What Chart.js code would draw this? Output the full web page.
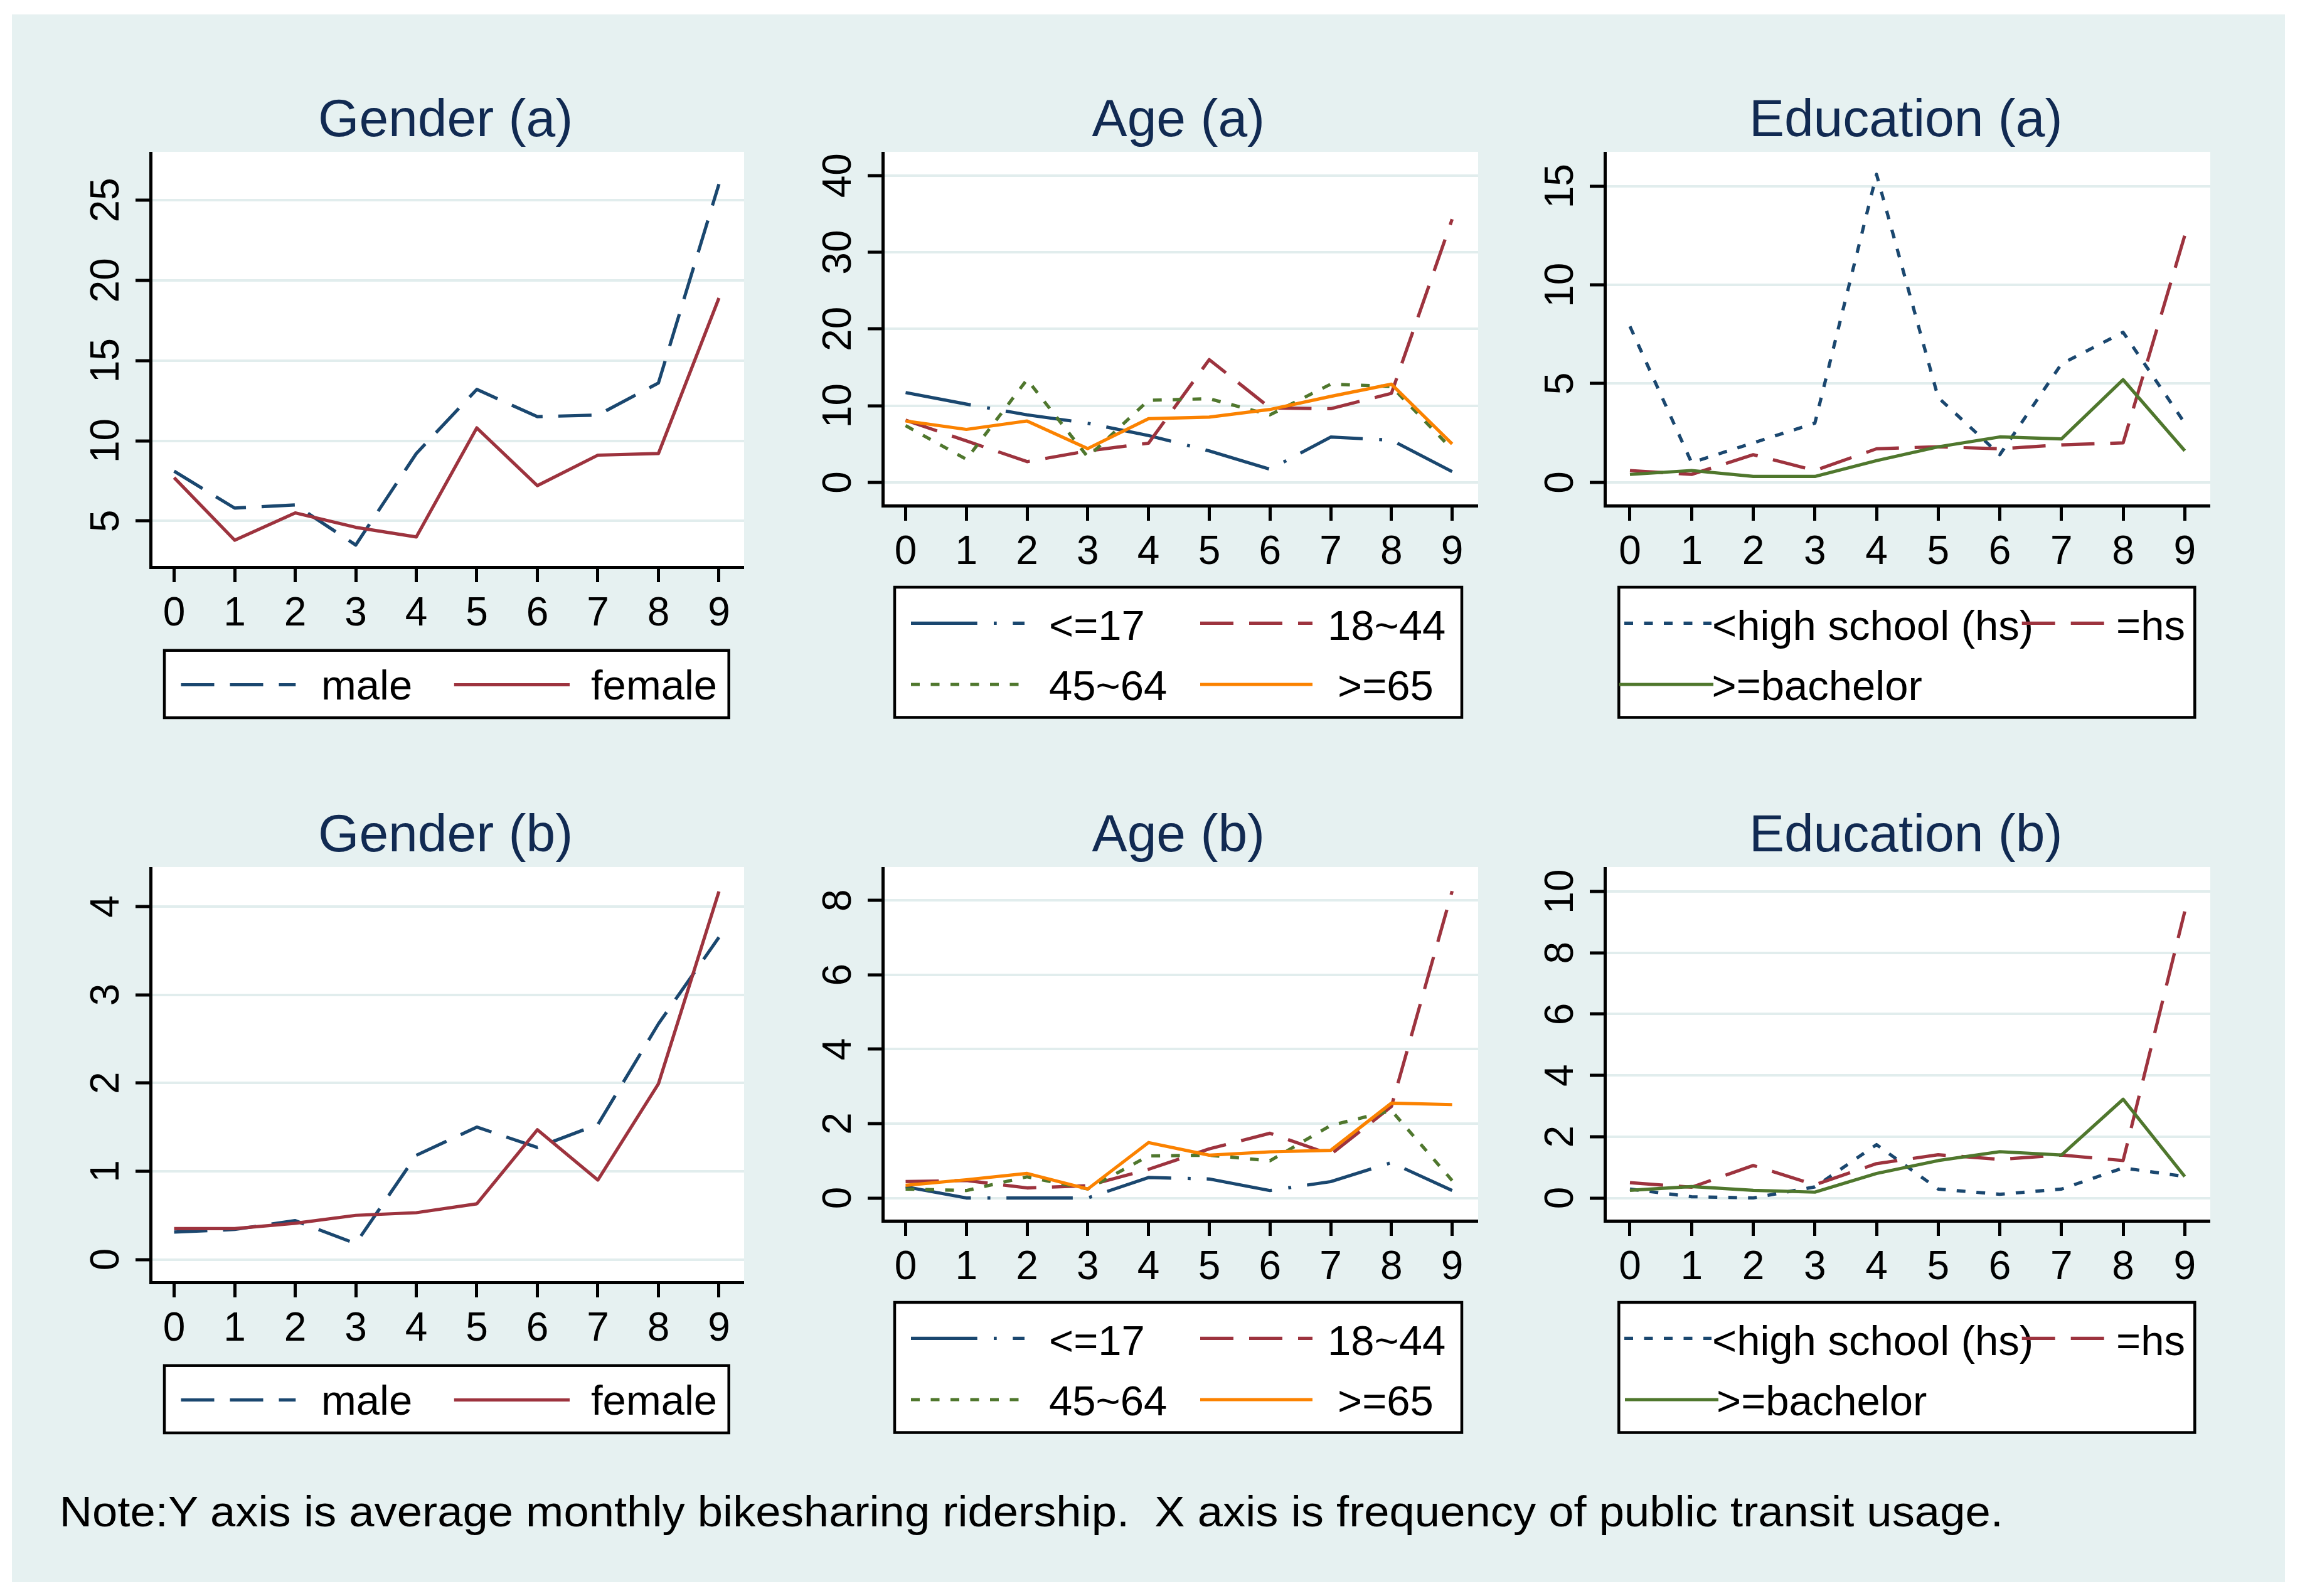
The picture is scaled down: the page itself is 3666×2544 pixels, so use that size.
<!DOCTYPE html>
<html><head><meta charset="utf-8">
<script src="https://cdn.jsdelivr.net/npm/chart.js@4.4.0/dist/chart.umd.min.js"></script>
<style>
html,body{margin:0;padding:0;background:#fff;}
#stage{position:relative;width:3666px;height:2544px;overflow:hidden;background:#fff;}
#bg{position:absolute;left:19px;top:23px;width:3623px;height:2499px;background:#e6f1f1;}
canvas{position:absolute;}
svg{position:absolute;left:0;top:0;}
</style></head><body>
<div id="stage"><div id="bg"></div></div>
<script>
// ---------------- DATA ----------------
const xCategories = [0,1,2,3,4,5,6,7,8,9];
const panelTitles = ['Gender (a)','Age (a)','Education (a)','Gender (b)','Age (b)','Education (b)'];
const genderLabels = ['male','female'];
const ageLabels = ['<=17','18~44','45~64','>=65'];
const eduLabels = ['<high school (hs)','=hs','>=bachelor'];
const noteText = 'Note:Y axis is average monthly bikesharing ridership.  X axis is frequency of public transit usage.';

const genderA_male   = [8.1,5.8,6.0,3.5,9.2,13.2,11.5,11.6,13.6,26.0];
const genderA_female = [7.7,3.8,5.5,4.6,4.0,10.8,7.2,9.1,9.2,18.9];
const ageA_le17  = [11.7,10.2,8.8,7.7,6.1,4.1,1.7,5.9,5.5,1.4];
const ageA_18_44 = [8.1,5.4,2.7,4.1,5.1,16.0,9.7,9.6,11.6,34.3];
const ageA_45_64 = [7.4,3.0,13.4,3.3,10.7,10.9,8.8,12.8,12.5,4.3];
const ageA_ge65  = [8.0,6.9,8.0,4.4,8.3,8.5,9.5,11.2,12.8,5.0];
const eduA_lths = [7.9,1.0,2.0,3.0,15.6,4.3,1.4,6.0,7.6,3.0];
const eduA_hs   = [0.6,0.4,1.4,0.6,1.7,1.8,1.7,1.9,2.0,12.5];
const eduA_bach = [0.4,0.6,0.3,0.3,1.1,1.8,2.3,2.2,5.2,1.6];

const genderB_male   = [0.31,0.34,0.44,0.18,1.18,1.50,1.27,1.53,2.67,3.65];
const genderB_female = [0.35,0.35,0.41,0.50,0.53,0.63,1.47,0.90,1.99,4.17];
const ageB_le17  = [0.30,0.00,0.00,0.00,0.55,0.51,0.20,0.44,0.95,0.20];
const ageB_18_44 = [0.44,0.47,0.27,0.33,0.77,1.32,1.74,1.17,2.46,8.25];
const ageB_45_64 = [0.24,0.20,0.57,0.24,1.13,1.15,1.00,1.95,2.35,0.47];
const ageB_ge65  = [0.34,0.49,0.66,0.24,1.49,1.15,1.24,1.28,2.55,2.51];
const eduB_lths = [0.29,0.04,0.00,0.36,1.74,0.29,0.12,0.29,0.98,0.70];
const eduB_hs   = [0.50,0.35,1.06,0.43,1.12,1.41,1.26,1.40,1.22,9.35];
const eduB_bach = [0.25,0.37,0.25,0.19,0.80,1.22,1.51,1.40,3.22,0.70];

const yTicksGenderA = [5,10,15,20,25];
const yTicksAgeA    = [0,10,20,30,40];
const yTicksEduA    = [0,5,10,15];
const yTicksGenderB = [0,1,2,3,4];
const yTicksAgeB    = [0,2,4,6,8];
const yTicksEduB    = [0,2,4,6,8,10];

// ---------------- STYLE ----------------
const FONT = '"Liberation Sans", Arial, Helvetica, sans-serif';
const NAVY = '#1a476f', MAROON = '#9d333e', GREEN = '#4f772d', ORANGE = '#fb8200';
const TITLE_COLOR = '#112a52', GRID = '#e1eded';
const DASH = [53, 25], SHORTDASH = [14, 17.5], DASHDOT = [105.7, 26.3, 4.7, 25.6], SOLID = [];
const LINE_W = 5.2;
const TICK_PX = 64, TITLE_PX = 84, LEGEND_PX = 67, NOTE_PX = 68;
const W = 200, H = 140;

const genderStyles = [{c:NAVY,d:DASH},{c:MAROON,d:SOLID}];
const ageStyles = [{c:NAVY,d:DASHDOT},{c:MAROON,d:DASH},{c:GREEN,d:SHORTDASH},{c:ORANGE,d:SOLID}];
const eduStyles = [{c:NAVY,d:SHORTDASH},{c:MAROON,d:DASH},{c:GREEN,d:SOLID}];

// legend layouts (row-1 coordinates)
const genderLegend = {box:[262,1036.7,899.7,107.3], items:[
  {l:[288.5,471.3], ly:1091.5, tx:512, ty:1115},
  {l:[723.8,908], ly:1091.5, tx:942, ty:1115}]};
const ageLegend = {box:[1426,936,904,207.5], items:[
  {l:[1452,1633], ly:993.3, tx:1672, ty:1020},
  {l:[1913,2092], ly:993.3, tx:2116, ty:1020},
  {l:[1452,1624], ly:1091, tx:1672, ty:1116},
  {l:[1913,2092], ly:1091, tx:2132, ty:1116}]};
const eduLegendA = {box:[2580.3,936,918,207.5], items:[
  {l:[2589,2728], ly:993.3, tx:2729, ty:1020},
  {l:[3222.7,3354.6], ly:993.3, tx:3373, ty:1020},
  {l:[2580.8,2731], ly:1091, tx:2728.5, ty:1116}]};
const eduLegendB = {box:[2580.3,936,918,207.5], items:[
  {l:[2589,2728], ly:993.3, tx:2729, ty:1020},
  {l:[3222.7,3354.6], ly:993.3, tx:3373, ty:1020},
  {l:[2590,2739], ly:1091, tx:2736, ty:1116}]};

const panels = [
  {title:panelTitles[0], r:{L:240.3,R:1186,T:241.7,B:904.2}, x:[-0.389,9.415], y:[2.12,28.01], yt:yTicksGenderA,
   series:[genderA_male,genderA_female], labels:genderLabels, styles:genderStyles, legend:genderLegend, dy:0},
  {title:panelTitles[1], r:{L:1406.8,R:2355.9,T:241.7,B:806.2}, x:[-0.377,9.428], y:[-3.04,43.09], yt:yTicksAgeA,
   series:[ageA_le17,ageA_18_44,ageA_45_64,ageA_ge65], labels:ageLabels, styles:ageStyles, legend:ageLegend, dy:0},
  {title:panelTitles[2], r:{L:2558.4,R:3523,T:241.7,B:806.2}, x:[-0.407,9.414], y:[-1.18,16.74], yt:yTicksEduA,
   series:[eduA_lths,eduA_hs,eduA_bach], labels:eduLabels, styles:eduStyles, legend:eduLegendA, dy:0},
  {title:panelTitles[3], r:{L:240.3,R:1186,T:1381.7,B:2044.2}, x:[-0.389,9.415], y:[-0.259,4.447], yt:yTicksGenderB,
   series:[genderB_male,genderB_female], labels:genderLabels, styles:genderStyles, legend:genderLegend, dy:1140},
  {title:panelTitles[4], r:{L:1406.8,R:2355.9,T:1381.7,B:1946.2}, x:[-0.377,9.428], y:[-0.615,8.898], yt:yTicksAgeB,
   series:[ageB_le17,ageB_18_44,ageB_45_64,ageB_ge65], labels:ageLabels, styles:ageStyles, legend:ageLegend, dy:1140},
  {title:panelTitles[5], r:{L:2558.4,R:3523,T:1381.7,B:1946.2}, x:[-0.407,9.414], y:[-0.747,10.80], yt:yTicksEduB,
   series:[eduB_lths,eduB_hs,eduB_bach], labels:eduLabels, styles:eduStyles, legend:eduLegendB, dy:1140}
];

// ---------------- PLUGINS ----------------
const plotBgPlugin = {
  id:'plotBg',
  beforeDraw(chart){
    const {ctx, chartArea:a} = chart;
    ctx.save(); ctx.fillStyle = '#fff';
    ctx.fillRect(a.left, a.top, a.right-a.left, a.bottom-a.top); ctx.restore();
  }
};
const yLabelPlugin = {
  id:'yLabels',
  afterDraw(chart){
    const s = chart.scales.y, ctx = chart.ctx;
    ctx.save();
    ctx.fillStyle = '#000';
    ctx.font = TICK_PX + 'px ' + FONT;
    ctx.textAlign = 'center'; ctx.textBaseline = 'alphabetic';
    s.ticks.forEach(t => {
      const y = s.getPixelForValue(t.value);
      ctx.save();
      ctx.translate(chart.chartArea.left - 51, y);
      ctx.rotate(-Math.PI/2);
      ctx.fillText(String(t.value), 0, 0);
      ctx.restore();
    });
    ctx.restore();
  }
};

// ---------------- BUILD ----------------
const stage = document.getElementById('stage');
const NS = 'http://www.w3.org/2000/svg';
const svg = document.createElementNS(NS,'svg');
svg.setAttribute('width','3666'); svg.setAttribute('height','2544');
svg.setAttribute('viewBox','0 0 3666 2544');

function sEl(tag, attrs, text){
  const e = document.createElementNS(NS, tag);
  for (const k in attrs) e.setAttribute(k, attrs[k]);
  if (text !== undefined) e.textContent = text;
  svg.appendChild(e);
  return e;
}

panels.forEach(p => {
  const L = Math.round(p.r.L), R = Math.round(p.r.R), T = Math.round(p.r.T), B = Math.round(p.r.B);
  const cv = document.createElement('canvas');
  const cw = R - L + W, ch = B - T + H;
  cv.width = cw; cv.height = ch;
  cv.style.left = (L - W) + 'px'; cv.style.top = T + 'px';
  cv.style.width = cw + 'px'; cv.style.height = ch + 'px';
  stage.appendChild(cv);
  const n = p.series.length;
  new Chart(cv, {
    type:'line',
    data:{datasets: p.series.map((vals,i) => ({
      label:p.labels[i],
      data:xCategories.map((x,j) => ({x:x, y:vals[j]})),
      borderColor:p.styles[i].c, backgroundColor:p.styles[i].c,
      borderWidth:LINE_W, borderDash:p.styles[i].d, borderJoinStyle:'round', borderCapStyle:'butt',
      pointRadius:0, pointHoverRadius:0, fill:false, tension:0, order:n-i
    }))},
    options:{
      responsive:false, maintainAspectRatio:false, animation:false, devicePixelRatio:1, events:[],
      layout:{padding:0},
      plugins:{legend:{display:false}, title:{display:false}, tooltip:{enabled:false}},
      scales:{
        x:{type:'linear', position:'bottom', min:p.x[0], max:p.x[1],
          afterBuildTicks:s => { s.ticks = xCategories.map(v => ({value:v})); },
          afterFit:s => { s.height = H; s.paddingLeft = 0; s.paddingRight = 0; },
          ticks:{display:true, autoSkip:false, maxRotation:0, minRotation:0, padding:19, color:'#000',
                 font:{family:FONT, size:TICK_PX, lineHeight:1}},
          grid:{display:true, drawOnChartArea:false, drawTicks:true, tickLength:24, tickWidth:5, tickColor:'#000'},
          border:{display:true, color:'#000', width:5}},
        y:{type:'linear', position:'left', min:p.y[0], max:p.y[1],
          afterBuildTicks:s => { s.ticks = p.yt.map(v => ({value:v})); },
          afterFit:s => { s.width = W; s.paddingTop = 0; s.paddingBottom = 0; },
          ticks:{display:false},
          grid:{display:true, drawOnChartArea:true, color:GRID, lineWidth:4, drawTicks:true, tickLength:24, tickWidth:5, tickColor:'#000'},
          border:{display:true, color:'#000', width:5}}
      }
    },
    plugins:[plotBgPlugin, yLabelPlugin]
  });

  // title
  sEl('text', {x:(p.r.L+p.r.R)/2 - 3, y:216.7 + p.dy, 'text-anchor':'middle',
    'font-family':FONT, 'font-size':TITLE_PX, fill:TITLE_COLOR}, p.title);

  // legend
  const lg = p.legend, b = lg.box;
  sEl('rect', {x:b[0], y:b[1]+p.dy, width:b[2], height:b[3], fill:'#fff', stroke:'#000', 'stroke-width':4.5});
  lg.items.forEach((it,i) => {
    sEl('line', {x1:it.l[0], x2:it.l[1], y1:it.ly+p.dy, y2:it.ly+p.dy, stroke:p.styles[i].c,
      'stroke-width':LINE_W, 'stroke-dasharray':p.styles[i].d.length ? p.styles[i].d.join(' ') : 'none', 'stroke-linecap':'butt'});
    sEl('text', {x:it.tx, y:it.ty+p.dy, 'font-family':FONT, 'font-size':LEGEND_PX, fill:'#000'}, p.labels[i]);
  });
});

const note = sEl('text', {x:94.8, y:2433.3, 'font-family':FONT, 'font-size':NOTE_PX, fill:'#000',
  textLength:3098, lengthAdjust:'spacingAndGlyphs', style:'white-space:pre'}, noteText);
stage.appendChild(svg);
</script>
</body></html>
